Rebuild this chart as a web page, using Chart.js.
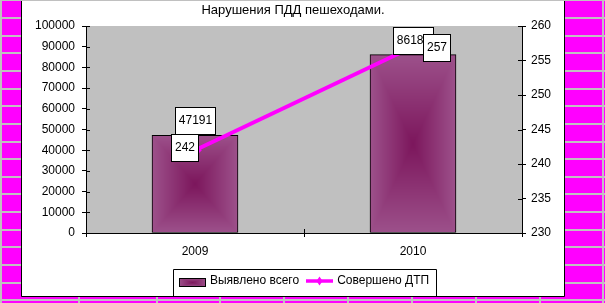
<!DOCTYPE html>
<html>
<head>
<meta charset="utf-8">
<script src="https://cdn.jsdelivr.net/npm/chart.js@4.4.0/dist/chart.umd.min.js"></script>
<style>
html, body { margin: 0; padding: 0; background: #ff00ff; }
canvas { display: block; }
</style>
</head>
<body>
<canvas id="chart" width="605" height="303"></canvas>
<script>
////////////////////////////////////////////////////////////////////////////////
// data
////////////////////////////////////////////////////////////////////////////////
const TITLE = "Нарушения ПДД пешеходами.";
const YEARS = ["2009", "2010"];
const SERIES_NAMES = ["Выявлено всего", "Совершено ДТП"];
const DETECTED = [47191, 86183];   // left axis, bars
const ACCIDENTS = [242, 257];      // right axis, line
const LEFT_AXIS = { min: 0, max: 100000, step: 10000 };
const RIGHT_AXIS = { min: 230, max: 260, step: 5 };

////////////////////////////////////////////////////////////////////////////////
// styles
////////////////////////////////////////////////////////////////////////////////
const FONT = "'Liberation Sans', Arial, sans-serif";
const BAR_EDGE = [156, 80, 138];
const BAR_MID = [124, 22, 92];
const LINE_COLOR = "#ff00ff";
const PLOT_BG = "#c0c0c0";
const SHEET_COLS = [1, 78.5, 156.5, 220.3, 284.1, 347.9, 411.7, 475.5, 540, 602.5];
const LINE_LABEL_SHIFT = [[-10.5, -2.7], [23.5, 1.8]];
const LEGEND_PAD = 7;

Chart.defaults.font.family = FONT;
Chart.defaults.font.size = 12;
Chart.defaults.color = "#000";

// rectangular "from center" gradient, painted pixel by pixel
const fillRectGradient = (ctx, x, y, w, h)=>{
    x = Math.round(x); y = Math.round(y); w = Math.round(w); h = Math.round(h);
    if(w <= 0 || h <= 0) return;
    const img = ctx.createImageData(w, h);
    for(let j = 0; j < h; j++){
        for(let i = 0; i < w; i++){
            const t = Math.min(1, Math.max(
                Math.abs(i + 0.5 - w / 2) / (w / 2),
                Math.abs(j + 0.5 - h / 2) / (h / 2)));
            const k = (j * w + i) * 4;
            for(let c = 0; c < 3; c++){
                img.data[k + c] = Math.round(BAR_MID[c] + (BAR_EDGE[c] - BAR_MID[c]) * t);
            }
            img.data[k + 3] = 255;
        }
    }
    ctx.putImageData(img, x, y);
};

const drawBoxLabel = (ctx, text, cx, top)=>{
    ctx.font = "12px " + FONT;
    const w = Math.round(ctx.measureText(text).width + 8);
    const h = 28;
    const left = Math.round(cx - w / 2);
    top = Math.round(top);
    ctx.fillStyle = "#fff";
    ctx.fillRect(left, top, w, h);
    ctx.strokeStyle = "#000";
    ctx.lineWidth = 1;
    ctx.strokeRect(left + 0.5, top + 0.5, w - 1, h - 1);
    ctx.fillStyle = "#000";
    ctx.textAlign = "center";
    ctx.textBaseline = "alphabetic";
    ctx.fillText(text, left + w / 2, top + 17);
};

////////////////////////////////////////////////////////////////////////////////
// plugins
////////////////////////////////////////////////////////////////////////////////
const sheetPlugin = {
    id: "sheet",
    afterLayout(chart){
        // title sits over the whole white chart box, not the plot
        chart.titleBlock.left -= 11;
        chart.titleBlock.right -= 11;
    },
    beforeDraw(chart){
        const {ctx, width, height, chartArea} = chart;
        ctx.save();
        ctx.fillStyle = "#ff00ff";
        ctx.fillRect(0, 0, width, height);
        ctx.fillStyle = "#c0c0c0";
        for(let k = 0; k < 18; k++){
            ctx.fillRect(0, Math.round(17.65 * k - 0.7), width, 2);
        }
        SHEET_COLS.forEach(x => ctx.fillRect(Math.round(x - 1), 0, 2, height));
        ctx.fillStyle = "#fff";
        ctx.fillRect(21, 1, 543, 295);
        ctx.strokeStyle = "#000";
        ctx.lineWidth = 1;
        ctx.beginPath();
        ctx.moveTo(21.5, 1); ctx.lineTo(21.5, 296.5);
        ctx.lineTo(564.5, 296.5); ctx.lineTo(564.5, 1);
        ctx.stroke();
        ctx.fillStyle = PLOT_BG;
        ctx.fillRect(chartArea.left, chartArea.top, chartArea.right - chartArea.left, chartArea.bottom - chartArea.top);
        ctx.restore();
    },
    beforeDatasetsDraw(chart){
        // inner half of the crossing tick marks
        const {ctx, chartArea} = chart;
        ctx.save();
        ctx.strokeStyle = "#000";
        ctx.lineWidth = 1;
        ctx.beginPath();
        chart.scales.y.ticks.forEach(t => {
            const py = Math.round(chart.scales.y.getPixelForValue(t.value)) + 0.5;
            ctx.moveTo(chartArea.left, py); ctx.lineTo(chartArea.left + 4, py);
        });
        chart.scales.y1.ticks.forEach(t => {
            const py = Math.round(chart.scales.y1.getPixelForValue(t.value)) + 0.5;
            ctx.moveTo(chartArea.right, py); ctx.lineTo(chartArea.right - 4, py);
        });
        const xs = chart.scales.x;
        for(let i = 1; i < YEARS.length; i++){
            const px = Math.round(xs.left + i * xs.width / YEARS.length) + 0.5;
            ctx.moveTo(px, chartArea.bottom); ctx.lineTo(px, chartArea.bottom - 4);
        }
        ctx.stroke();
        ctx.restore();
    },
    afterDatasetDraw(chart, args){
        if(args.index !== 0) return;
        args.meta.data.forEach(bar => {
            const p = bar.getProps(["x", "y", "base", "width"], true);
            const l = Math.round(p.x - p.width / 2) + 1;
            const r = Math.round(p.x + p.width / 2) - 1;
            const t = Math.round(p.y) + 1;
            const b = Math.round(p.base) - 1;
            fillRectGradient(chart.ctx, l, t, r - l, b - t);
        });
    },
    afterDatasetsDraw(chart){
        const ctx = chart.ctx;
        ctx.save();
        chart.getDatasetMeta(0).data.forEach((bar, i) => {
            drawBoxLabel(ctx, String(DETECTED[i]), bar.x, bar.y - 28);
        });
        chart.getDatasetMeta(1).data.forEach((pt, i) => {
            const [dx, dy] = LINE_LABEL_SHIFT[i];
            drawBoxLabel(ctx, String(ACCIDENTS[i]), pt.x + dx, pt.y + dy - 14);
        });
        ctx.restore();
    },
    afterDraw(chart){
        const {ctx, legend} = chart;
        const hb = legend.legendHitBoxes;
        if(!hb || !hb.length) return;
        const cy = Math.round(legend.top + LEGEND_PAD + 6);
        ctx.save();
        ctx.strokeStyle = "#000";
        ctx.lineWidth = 1;
        const last = hb[hb.length - 1];
        const l = Math.round(hb[0].left) - 6;
        const r = Math.round(last.left + last.width) + 7;
        ctx.beginPath();
        ctx.moveTo(l + 0.5, 296.5); ctx.lineTo(l + 0.5, cy - 11.5);
        ctx.lineTo(r + 0.5, cy - 11.5); ctx.lineTo(r + 0.5, 296.5);
        ctx.stroke();
        // bar swatch
        const sx = Math.round(hb[0].left);
        fillRectGradient(ctx, sx, cy - 3, 27, 9);
        ctx.strokeRect(sx + 0.5, cy - 3 + 0.5, 26, 8);
        // line swatch with diamond
        const lx = Math.round(hb[1].left);
        ctx.strokeStyle = LINE_COLOR;
        ctx.lineWidth = 3.5;
        ctx.beginPath();
        ctx.moveTo(lx, cy); ctx.lineTo(lx + 27, cy);
        ctx.stroke();
        ctx.fillStyle = LINE_COLOR;
        ctx.beginPath();
        ctx.moveTo(lx + 13.5, cy - 4.5); ctx.lineTo(lx + 16.5, cy);
        ctx.lineTo(lx + 13.5, cy + 4.5); ctx.lineTo(lx + 10.5, cy);
        ctx.closePath();
        ctx.fill();
        ctx.restore();
    },
};

////////////////////////////////////////////////////////////////////////////////
// chart
////////////////////////////////////////////////////////////////////////////////
const axisGrid = { drawOnChartArea: false, color: "#000", tickLength: 4 };

const createChart = ()=>{
    return new Chart(document.getElementById("chart"), {
        type: "bar",
        data: {
            labels: YEARS,
            datasets: [
                {
                    type: "bar", label: SERIES_NAMES[0], data: DETECTED, yAxisID: "y", order: 2,
                    backgroundColor: "rgb(150,70,128)", borderColor: "#000", borderWidth: 1,
                    borderSkipped: false, barThickness: 86,
                },
                {
                    type: "line", label: SERIES_NAMES[1], data: ACCIDENTS, yAxisID: "y1", order: 1,
                    borderColor: LINE_COLOR, borderWidth: 4, tension: 0,
                    pointStyle: "rectRot", pointRadius: 4,
                    pointBackgroundColor: LINE_COLOR, pointBorderColor: LINE_COLOR,
                },
            ],
        },
        options: {
            responsive: false,
            animation: false,
            devicePixelRatio: 1,
            layout: { padding: { left: 22, right: 19, top: 0, bottom: 6 } },
            plugins: {
                title: {
                    display: true, text: TITLE, color: "#000",
                    font: { size: 13, weight: "normal" },
                    padding: { top: 3, bottom: 7.4 },
                },
                legend: {
                    position: "bottom",
                    labels: {
                        boxWidth: 25, boxHeight: 9, padding: LEGEND_PAD, color: "#000",
                        font: { size: 12 },
                        sort: (a, b)=> a.datasetIndex - b.datasetIndex,
                        generateLabels: (c)=>{
                            const items = Chart.defaults.plugins.legend.labels.generateLabels(c);
                            items.forEach(it => {
                                it.fillStyle = "rgba(0,0,0,0)";
                                it.strokeStyle = "rgba(0,0,0,0)";
                                it.lineWidth = 0;
                            });
                            return items;
                        },
                    },
                },
                tooltip: { enabled: false },
            },
            scales: {
                x: {
                    grid: { ...axisGrid, offset: true },
                    border: { color: "#000" },
                    ticks: { color: "#000", padding: 7 },
                    afterFit: (s)=>{ s.height = 35; },
                },
                y: {
                    position: "left",
                    min: LEFT_AXIS.min, max: LEFT_AXIS.max,
                    grid: axisGrid,
                    border: { color: "#000" },
                    ticks: { stepSize: LEFT_AXIS.step, color: "#000", padding: 7, callback: v => String(v) },
                    afterFit: (s)=>{ s.width = 64; },
                },
                y1: {
                    position: "right",
                    min: RIGHT_AXIS.min, max: RIGHT_AXIS.max,
                    grid: axisGrid,
                    border: { color: "#000" },
                    ticks: { stepSize: RIGHT_AXIS.step, color: "#000", padding: 5, callback: v => String(v) },
                    afterFit: (s)=>{ s.width = 64; },
                },
            },
        },
        plugins: [sheetPlugin],
    });
};

createChart();
</script>
</body>
</html>
